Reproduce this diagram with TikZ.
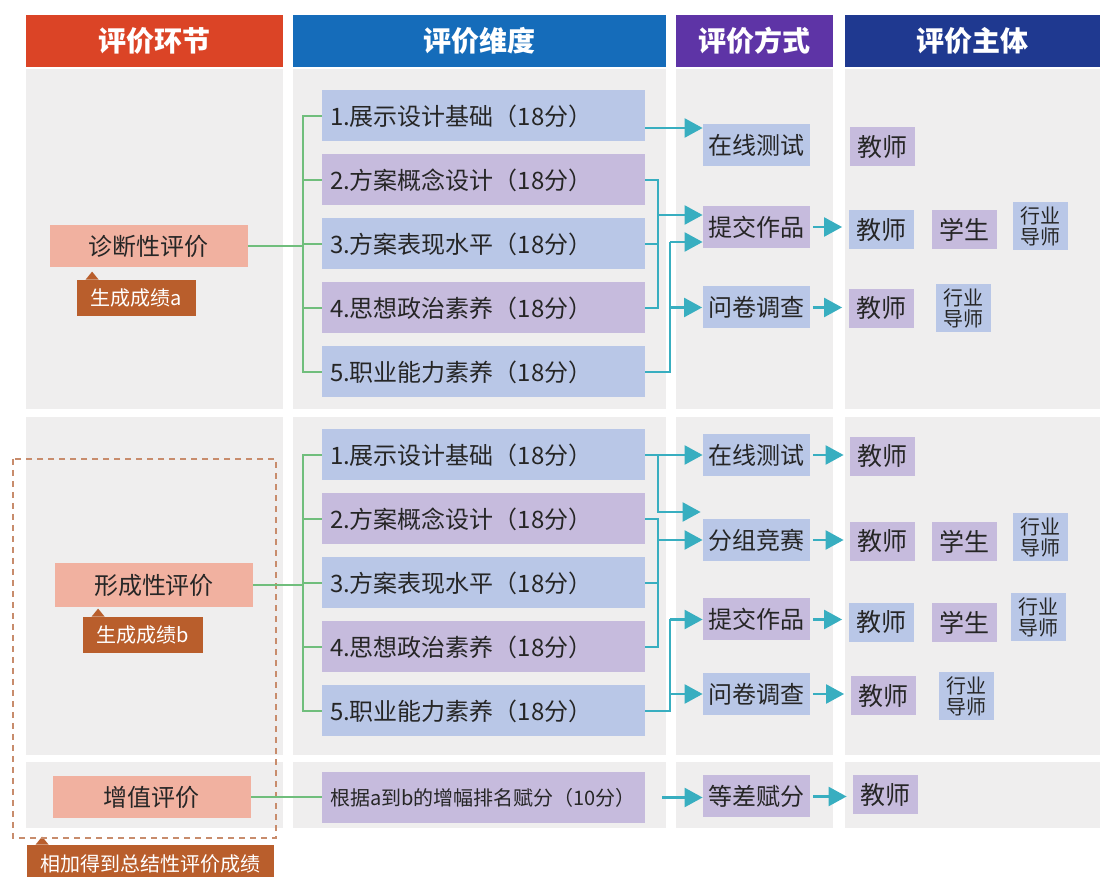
\documentclass[tikz,border=0pt]{standalone}
\usepackage{fontspec}
\setmainfont{Noto Sans CJK SC}
\usetikzlibrary{arrows.meta,calc}
\definecolor{hdrR}{RGB}{219,68,38}
\definecolor{hdrB}{RGB}{21,108,186}
\definecolor{hdrV}{RGB}{94,52,166}
\definecolor{hdrN}{RGB}{31,57,144}
\definecolor{panG}{RGB}{239,238,238}
\definecolor{boxB}{RGB}{185,199,231}
\definecolor{boxV}{RGB}{198,187,221}
\definecolor{boxP}{RGB}{241,177,160}
\definecolor{tagO}{RGB}{185,94,44}
\definecolor{dashO}{RGB}{200,140,108}
\definecolor{lnG}{RGB}{112,190,124}
\definecolor{lnT}{RGB}{56,174,192}
\definecolor{inkD}{RGB}{38,38,38}

\begin{document}
\begin{tikzpicture}[x=0.5pt,y=-0.5pt,
  hdr/.style={fill=#1,text=white,minimum height=26pt,inner sep=0pt,font=\bfseries\fontsize{14}{16}\selectfont},
  dim/.style={fill=#1,text=inkD,minimum height=25.5pt,text width=153.5pt,inner xsep=4pt,inner ysep=0pt,align=left,font=\fontsize{12}{14}\selectfont},
  way/.style={fill=#1,text=inkD,minimum width=53.5pt,minimum height=21pt,inner sep=0pt,font=\fontsize{12}{14}\selectfont},
  who/.style={fill=#1,text=inkD,minimum width=32.5pt,minimum height=19.5pt,inner sep=0pt,font=\fontsize{12.5}{14}\selectfont},
  mentor/.style={fill=boxB,text=inkD,minimum width=27.5pt,minimum height=24pt,inner sep=0pt,align=center,font=\fontsize{10}{10.5}\selectfont},
  stage/.style={fill=boxP,text=inkD,minimum width=99pt,minimum height=21pt,inner sep=0pt,font=\fontsize{12}{14}\selectfont},
  tag/.style={fill=tagO,text=white,inner sep=0pt,font=\fontsize{10}{12}\selectfont},
  gline/.style={lnG,line width=1pt},
  tline/.style={lnT,line width=1.2pt},
  tarrow/.style={tline,-{Triangle[length=9pt,width=9.5pt]}},
]
\useasboundingbox (0,0) rectangle (1100,877);
% grey panels, four columns by three rows
\foreach \xa/\xb in {26/283,293/666,676/833,845/1100}
  \foreach \ya/\yb in {69/409,417/755,762/828}
    \fill[panG] (\xa,\ya) rectangle (\xb,\yb);
\node[hdr=hdrR,minimum width=128.5pt] (h1) at (154.5,41) {评价环节};
\node[hdr=hdrB,minimum width=186.5pt] (h2) at (479.5,41) {评价维度};
\node[hdr=hdrV,minimum width=78.5pt] (h3) at (754.5,41) {评价方式};
\node[hdr=hdrN,minimum width=127.5pt] (h4) at (972.5,41) {评价主体};

% evaluation stages
\node[stage] (diag) at (148.5,246) {诊断性评价};
\node[stage,minimum height=22pt] (form) at (154,585) {形成性评价};
\node[stage] (zeng) at (152,797) {增值评价};
\node[tag,minimum width=59.5pt,minimum height=18pt] (ca) at (136.5,298) {生成成绩a};
\node[tag,minimum width=60pt,minimum height=18pt] (cb) at (143,635) {生成成绩b};
\node[tag,minimum width=123.5pt,minimum height=19pt] (cc) at (150.5,864) {相加得到总结性评价成绩};
\foreach \t in {ca,cb,cc}
  \fill[tagO] ($(\t.north west)+(9,0)$) -- ($(\t.north west)+(15.5,-8)$) -- ($(\t.north west)+(22,0)$) -- cycle;
\draw[dashO,line width=0.75pt,dash pattern=on 3pt off 2.5pt] (13,459) rectangle (276,838);

% dimensions
\foreach \row/\yb in {a/116,b/455}
  \foreach \n/\txt/\c in {1/展示设计基础/boxB,2/方案概念设计/boxV,3/方案表现水平/boxB,4/思想政治素养/boxV,5/职业能力素养/boxB}
    \node[dim=\c] (d\n\row) at (483.5,{\yb+(\n-1)*64}) {\n.\txt（18分）};
\node[dim=boxV,font=\fontsize{10}{12}\selectfont] (vbox) at (483.5,797.5) {根据a到b的增幅排名赋分（10分）};

% methods
\node[way=boxB] (ma1) at (756.5,145.5) {在线测试};
\node[way=boxV] (ma2) at (756.5,227) {提交作品};
\node[way=boxB] (ma3) at (756,307.5) {问卷调查};
\node[way=boxB] (mb1) at (756.5,455) {在线测试};
\node[way=boxB] (mb2) at (756.5,540) {分组竞赛};
\node[way=boxV] (mb3) at (756.5,619.5) {提交作品};
\node[way=boxB] (mb4) at (756.5,694) {问卷调查};
\node[way=boxV] (mc1) at (756.5,796.5) {等差赋分};

% subjects
\node[who=boxV] (sa1) at (882,147) {教师};
\node[who=boxB] (sa2) at (881,230) {教师};
\node[who=boxV] (sa3) at (964.5,230) {学生};
\node[mentor] (sa4) at (1040.5,226) {行业\\导师};
\node[who=boxV] (sa5) at (881,308.5) {教师};
\node[mentor] (sa6) at (963,308.5) {行业\\导师};
\node[who=boxV] (sb1) at (882.5,456.5) {教师};
\node[who=boxV] (sb2) at (882.5,541.5) {教师};
\node[who=boxV] (sb3) at (964.5,541.5) {学生};
\node[mentor] (sb4) at (1040.5,537) {行业\\导师};
\node[who=boxB] (sb5) at (881,622.5) {教师};
\node[who=boxV] (sb6) at (964.5,622.5) {学生};
\node[mentor] (sb7) at (1038,617.5) {行业\\导师};
\node[who=boxV] (sb8) at (883,696) {教师};
\node[mentor] (sb9) at (966,696) {行业\\导师};
\node[who=boxV] (sc1) at (885.5,795) {教师};

% green brackets to the dimensions
\coordinate (busL) at (303,0);
\foreach \row in {a,b}{
  \draw[gline] (d1\row.west) -- (d1\row.west -| busL) -- (d5\row.west -| busL) -- (d5\row.west);
  \foreach \n in {2,3,4} \draw[gline] (d\n\row.west) -- (d\n\row.west -| busL);
}
\draw[gline] (diag.east) -- (diag.east -| busL);
\draw[gline] (form.east) -- (form.east -| busL);
\draw[gline] (zeng.east) -- (zeng.east -| vbox.west);

% teal links to the methods
\coordinate (jA) at (658,0);
\coordinate (jB) at (670,0);
\coordinate (a1) at ([yshift=-6pt]d1a.east);
\coordinate (a2) at ([yshift=6pt]ma2.west);
\coordinate (a3) at ([yshift=-7.5pt]ma2.west);
\coordinate (b0) at ([yshift=14pt]mb2.west);
\draw[tarrow] (a1) -- (a1 -| ma1.west);
\foreach \row in {a,b}{
  \draw[tline] (d2\row.east) -- (d2\row.east -| jA) -- (d4\row.east -| jA) -- (d4\row.east);
  \draw[tline] (d3\row.east) -- (d3\row.east -| jA);
}
\draw[tarrow] (a2 -| jA) -- (a2);
\draw[tline] (d5a.east) -- (d5a.east -| jB) -- (a3 -| jB);
\draw[tarrow] (a3 -| jB) -- (a3);
\draw[tarrow] (ma3.west -| jB) -- (ma3.west);
\draw[tarrow] (d1b.east) -- (d1b.east -| mb1.west);
\draw[tarrow,shorten >=1pt] (d1b.east -| jA) -- (b0 -| jA) -- (b0);
\draw[tarrow] (mb2.west -| jA) -- (mb2.west);
\draw[tline] (d5b.east) -- (d5b.east -| jB) -- (mb3.west -| jB);
\draw[tarrow] (mb3.west -| jB) -- (mb3.west);
\draw[tarrow] (mb4.west -| jB) -- (mb4.west);
\draw[tarrow,shorten <=8.5pt] (vbox.east) -- (vbox.east -| mc1.west);

% methods to subjects
\foreach \m/\s in {ma2/sa2,ma3/sa5,mb1/sb1,mb2/sb2,mb3/sb5,mb4/sb8,mc1/sc1}
  \draw[tarrow,shorten <=1.5pt,shorten >=3pt] (\m.east) -- (\m.east -| \s.west);
\end{tikzpicture}
\end{document}
